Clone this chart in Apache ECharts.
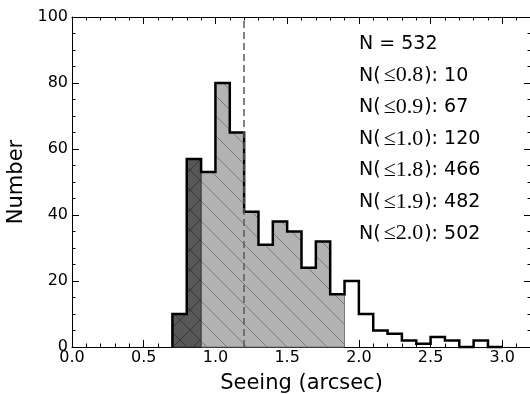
<!DOCTYPE html>
<html><head><meta charset="utf-8">
<script src="https://cdn.jsdelivr.net/npm/echarts@6/dist/echarts.min.js"></script>
<style>html,body{margin:0;padding:0;background:#fff}#c{width:530px;height:394px}</style>
</head><body><div id="c"></div>
<script>
// ---- data ----
const binLeft = [0.7,0.8,0.9,1.0,1.1,1.2,1.3,1.4,1.5,1.6,1.7,1.8,1.9,2.0,2.1,2.2,2.3,2.4,2.5,2.6,2.7,2.8,2.9];
const binCounts = [10,57,53,80,65,41,31,38,35,24,32,16,20,10,5,4,2,1,3,2,0,2,0];
const binWidth = 0.1;
const darkRange = [0.7, 0.9];
const lightRange = [0.9, 1.9];
const medianSeeing = 1.2;
const totalN = 532;
const cumThresholds = ['0.8','0.9','1.0','1.8','1.9','2.0'];
const cumCounts = [10,67,120,466,482,502];
const xMin = 0, xMax = 3.2, xInterval = 0.5;
const yMin = 0, yMax = 100, yInterval = 20;
const xTitle = 'Seeing (arcsec)';
const yTitle = 'Number';

// ---- helpers ----
function stepPoints(lo, hi) {
  const pts = [];
  binLeft.forEach((x0, i) => {
    if (x0 < lo - 1e-9 || x0 >= hi - 1e-9) return;
    const x1 = Math.round((x0 + binWidth) * 100) / 100;
    if (!pts.length) pts.push([x0, 0]);
    pts.push([x0, binCounts[i]], [x1, binCounts[i]]);
  });
  pts.push([pts[pts.length - 1][0], 0]);
  return pts;
}
function makeHatch(size, color, dirs) {
  const c = document.createElement('canvas');
  c.width = size; c.height = size;
  const ctx = c.getContext('2d');
  ctx.strokeStyle = color; ctx.lineWidth = 1;
  dirs.forEach(d => {
    [-size, 0, size].forEach(o => {
      ctx.beginPath();
      if (d === 'back') { ctx.moveTo(o, 0); ctx.lineTo(o + size, size); }
      else { ctx.moveTo(o, size); ctx.lineTo(o + size, 0); }
      ctx.stroke();
    });
  });
  return c;
}
function regionSeries(range, fill, hatch, edge) {
  const pts = stepPoints(range[0], range[1]);
  return {
    type: 'custom', coordinateSystem: 'cartesian2d', silent: true, z: 2,
    data: [pts[0]],
    renderItem: (params, api) => {
      const px = pts.map(p => api.coord(p));
      return { type: 'group', children: [
        { type: 'polygon', shape: { points: px }, style: { fill: fill } },
        { type: 'polygon', shape: { points: px }, style: { fill: { image: hatch, repeat: 'repeat' } } },
        { type: 'polygon', shape: { points: px }, style: { fill: null, stroke: edge, lineWidth: 1 } }
      ]};
    }
  };
}

const FONT = 'DejaVu Sans';
const axisCommon = {
  axisLine: { show: true, onZero: false, lineStyle: { color: '#000', width: 1 } },
  axisTick: { show: true, inside: true, length: 7, lineStyle: { color: '#000', width: 1 } },
  minorTick: { show: true, length: 3.5, lineStyle: { color: '#000', width: 1 } },
  splitLine: { show: false },
  minorSplitLine: { show: false }
};

const chart = echarts.init(document.getElementById('c'), null, { renderer: 'canvas' });
const lightHatch = makeHatch(20, '#7c7c7c', ['back']);
const darkHatch = makeHatch(20, '#383838', ['back', 'fwd']);

const annLines = [{ text: 'N = ' + totalN }].concat(cumThresholds.map((t, i) => ({
  text: '{a|N(}{m|≤' + t + '}{a|): ' + cumCounts[i] + '}'
})));

chart.setOption({
  animation: false,
  backgroundColor: '#fff',
  grid: { left: 72, top: 17, width: 459, height: 330, outerBoundsMode: 'none', containLabel: false },
  xAxis: [
    Object.assign({}, axisCommon, {
      type: 'value', min: xMin, max: xMax, interval: xInterval, position: 'bottom',
      minorTick: Object.assign({}, axisCommon.minorTick, { splitNumber: 5 }),
      axisLabel: { show: true, margin: 3, color: '#000', fontFamily: FONT, fontSize: 16, showMaxLabel: false,
        formatter: v => v.toFixed(1) },
      name: xTitle, nameLocation: 'middle', nameGap: 26,
      nameTextStyle: { fontFamily: FONT, fontSize: 21, color: '#000' }
    }),
    Object.assign({}, axisCommon, {
      type: 'value', min: xMin, max: xMax, interval: xInterval, position: 'top',
      minorTick: Object.assign({}, axisCommon.minorTick, { splitNumber: 5 }),
      axisLabel: { show: false }
    })
  ],
  yAxis: [
    Object.assign({}, axisCommon, {
      type: 'value', min: yMin, max: yMax, interval: yInterval, position: 'left',
      minorTick: Object.assign({}, axisCommon.minorTick, { splitNumber: 4 }),
      axisLabel: { show: true, margin: 4, color: '#000', fontFamily: FONT, fontSize: 16 },
      name: yTitle, nameLocation: 'middle', nameGap: 42,
      nameTextStyle: { fontFamily: FONT, fontSize: 21, color: '#000' }
    }),
    Object.assign({}, axisCommon, {
      type: 'value', min: yMin, max: yMax, interval: yInterval, position: 'right',
      minorTick: Object.assign({}, axisCommon.minorTick, { splitNumber: 4 }),
      axisLabel: { show: false }
    })
  ],
  series: [
    regionSeries(lightRange, '#b3b3b3', lightHatch, '#7a7a7a'),
    regionSeries(darkRange, '#585858', darkHatch, '#3a3a3a'),
    {
      type: 'line', data: [[medianSeeing, yMin]], symbol: 'none', silent: true, z: 3,
      lineStyle: { opacity: 0 },
      markLine: {
        silent: true, symbol: ['none', 'none'], label: { show: false },
        lineStyle: { type: [7, 4], color: '#5a5a5a', width: 1.5 },
        data: [{ xAxis: medianSeeing }]
      }
    },
    {
      type: 'line', data: stepPoints(-1, 10), symbol: 'none', showSymbol: false, silent: true, z: 4, clip: false,
      lineStyle: { color: '#000', width: 2.5, join: 'miter' }
    }
  ],
  graphic: annLines.map((l, i) => ({
    type: 'text', x: 359, y: 44 + i * 31.6, silent: true,
    style: {
      text: l.text, fill: '#000', font: '19px "DejaVu Sans"', verticalAlign: 'middle',
      rich: {
        a: { fontFamily: FONT, fontSize: 19, fill: '#000' },
        m: { fontFamily: 'Liberation Serif', fontSize: 22, fill: '#000', padding: [0, 1, 0, 3] }
      }
    }
  }))
});
</script>
</body></html>
